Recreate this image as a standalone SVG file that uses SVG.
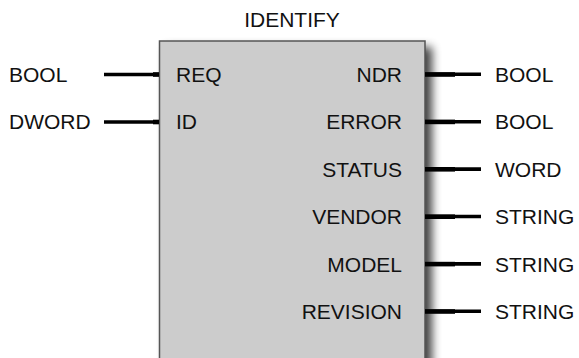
<svg xmlns="http://www.w3.org/2000/svg" width="579" height="358" viewBox="0 0 579 358">
  <defs>
    <filter id="shadow" x="-20%" y="-20%" width="140%" height="140%">
      <feGaussianBlur stdDeviation="5"/>
    </filter>
    <style>
      text { font-family: "Liberation Sans", Arial, sans-serif; font-size: 21px; fill: #111; }
      .end { text-anchor: end; }
      .mid { text-anchor: middle; }
      .wire { stroke: #000; stroke-width: 3.6; fill: none; }
      .stub { stroke: #000; stroke-width: 4.6; fill: none; }
      .box { fill: #cccccc; stroke: #555; stroke-width: 1.5; }
    </style>
  </defs>
  <rect width="579" height="358" fill="#fff"/>
  <g id="block">
    <rect x="166" y="47" width="266" height="330" fill="#000" opacity="0.75" filter="url(#shadow)"/>
    <rect class="box" x="159.5" y="41" width="265.5" height="330"/>
    <text class="mid" x="292" y="27">IDENTIFY</text>
  </g>
  <g id="connectors">
    <line class="wire" x1="104" y1="74.5" x2="159" y2="74.5"/>
    <line class="stub" x1="153" y1="74.5" x2="159" y2="74.5"/>
    <line class="wire" x1="104" y1="122" x2="159" y2="122"/>
    <line class="stub" x1="153" y1="122" x2="159" y2="122"/>
    <line class="wire" x1="425" y1="74.3" x2="481" y2="74.3"/>
    <line class="stub" x1="425" y1="74.5" x2="455" y2="74.5"/>
    <line class="wire" x1="425" y1="121.7" x2="481" y2="121.7"/>
    <line class="stub" x1="425" y1="121.9" x2="455" y2="121.9"/>
    <line class="wire" x1="425" y1="169.1" x2="481" y2="169.1"/>
    <line class="stub" x1="425" y1="169.3" x2="455" y2="169.3"/>
    <line class="wire" x1="425" y1="216.5" x2="481" y2="216.5"/>
    <line class="stub" x1="425" y1="216.7" x2="455" y2="216.7"/>
    <line class="wire" x1="425" y1="263.9" x2="481" y2="263.9"/>
    <line class="stub" x1="425" y1="264.1" x2="455" y2="264.1"/>
    <line class="wire" x1="425" y1="311.3" x2="481" y2="311.3"/>
    <line class="stub" x1="425" y1="311.5" x2="455" y2="311.5"/>
  </g>
  <g id="inputs">
    <text x="9" y="82">BOOL</text>
    <text x="9" y="129.4">DWORD</text>
    <text x="176" y="82">REQ</text>
    <text x="176" y="129.4">ID</text>
  </g>
  <g id="outputs">
    <text class="end" x="402" y="82">NDR</text>
    <text class="end" x="402" y="129.4">ERROR</text>
    <text class="end" x="402" y="176.8">STATUS</text>
    <text class="end" x="402" y="224.2">VENDOR</text>
    <text class="end" x="402" y="271.6">MODEL</text>
    <text class="end" x="402" y="319">REVISION</text>
    <text x="495" y="82">BOOL</text>
    <text x="495" y="129.4">BOOL</text>
    <text x="495" y="176.8">WORD</text>
    <text x="495" y="224.2">STRING</text>
    <text x="495" y="271.6">STRING</text>
    <text x="495" y="319">STRING</text>
  </g>
</svg>
